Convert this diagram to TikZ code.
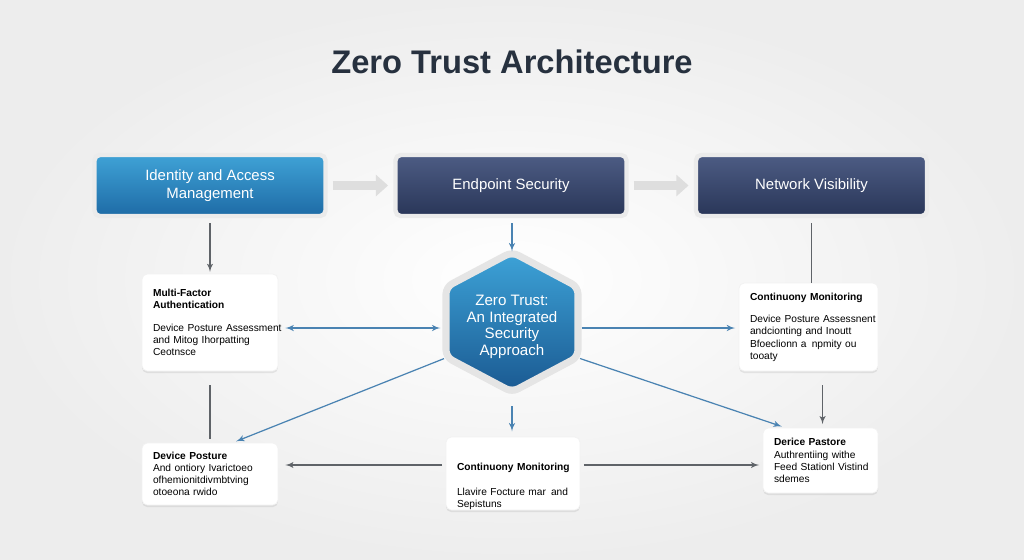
\documentclass[tikz,border=0pt]{standalone}
\usepackage{fontspec}
\setmainfont{Liberation Sans}
\usetikzlibrary{arrows,arrows.meta,shadows,positioning,calc}

\definecolor{titleink}{HTML}{27313F}
\definecolor{iamtop}{HTML}{3FA2D6}
\definecolor{iambot}{HTML}{1E6BA6}
\definecolor{navytop}{HTML}{4D5C84}
\definecolor{navybot}{HTML}{293658}
\definecolor{hextop}{HTML}{3DA3D8}
\definecolor{hexbot}{HTML}{1A5991}
\definecolor{linkblue}{HTML}{4A83B2}
\definecolor{linkgray}{HTML}{5F6368}

\begin{document}
\begin{tikzpicture}[x=0.02cm,y=-0.02cm,
  topbox/.style = {shape=rectangle, rounded corners=3pt,
    draw=black!8, line width=2.5pt, text=white, align=center,
    font=\fontsize{8.5}{10}\selectfont,
    minimum width=4.62cm, minimum height=1.22cm},
  card/.style = {shape=rectangle, rounded corners=3pt,
    fill=white, draw=black!5, align=left, inner xsep=0.22cm, inner ysep=0pt,
    font=\fontsize{5.8}{6.9}\selectfont,
    drop shadow={opacity=0.16, shadow xshift=0pt, shadow yshift=-1.2pt}},
  hubtext/.style = {align=center, text=white, inner sep=0pt,
    font=\fontsize{8.6}{9.4}\selectfont,
    minimum width=2.64cm, minimum height=2.8cm},
  flow/.style = {draw=black!13, line width=5pt,
    -{Triangle[width=12pt,length=7pt]}, shorten <=3pt, shorten >=3pt},
  line/.style = {draw=linkgray, line width=0.6pt, -latex'},
  plain/.style = {draw=linkgray, line width=0.6pt},
  bline/.style = {draw=linkblue, line width=0.7pt, -latex'}
  ]
  % backdrop
  \shade[inner color=white, outer color=black!7] (0,0) rectangle (1024,559);
  \useasboundingbox (0,0) rectangle (1024,559);

  \node[font=\fontsize{18.6}{22}\selectfont\bfseries, text=titleink] (title) at (512,62) {Zero Trust Architecture};

  % top row
  \node[topbox, top color=iamtop, bottom color=iambot] (iam) at (210,185.5) {Identity and Access\\Management};
  \node[topbox, top color=navytop, bottom color=navybot] (endp) at (511,185.5) {Endpoint Security};
  \node[topbox, top color=navytop, bottom color=navybot] (netv) at (811.5,185.5) {Network Visibility};

  \draw[flow] (iam.east) -- (endp.west);
  \draw[flow] (endp.east) -- (netv.west);

  % hub
  \path[draw=black!10, line width=4pt, rounded corners=4pt, top color=hextop, bottom color=hexbot,
    drop shadow={opacity=0.2, shadow xshift=0pt, shadow yshift=-2pt}]
    (512,252) -- (578,287) -- (578,357) -- (512,392) -- (446,357) -- (446,287) -- cycle;
  \node[hubtext] (hub) at (512,327) {Zero Trust:\\An Integrated\\Security\\Approach};

  % cards
  \node[card, text width=2.28cm, minimum height=1.94cm] (mfa) at (210,322.5)
    {\textbf{Multi-Factor}\\\textbf{Authentication}\\[6pt]\mbox{Device Posture Assessment}\\and Mitog Ihorpatting\\Ceotnsce};
  \node[card, text width=2.34cm, minimum height=1.76cm] (cmon) at (808.5,327)
    {\textbf{\mbox{Continuony Monitoring}}\\[6pt]\mbox{Device Posture Assessnent}\\andcionting and Inoutt\\Bfoeclionn a\, npmity ou\\tooaty};
  \node[card, text width=2.28cm, minimum height=1.24cm] (dpos) at (210,474)
    {\textbf{Device Posture}\\And ontiory Ivarictoeo\\ofhemionitdivmbtving\\otoeona rwido};
  \node[card, text width=2.24cm, minimum height=1.46cm] (cmon2) at (513,473.5)
    {\rule{0pt}{19pt}\textbf{\mbox{Continuony Monitoring}}\\[7pt]\mbox{Llavire Focture mar\, and}\\Sepistuns};
  \node[card, text width=1.86cm, minimum height=1.3cm] (dpos2) at (820.5,460.5)
    {\textbf{Derice Pastore}\\\mbox{Authrentiing withe}\\\mbox{Feed Stationl Vistind}\\sdemes};

  \coordinate (midrow) at (512,328);
  \coordinate (lowrow) at (512,465);

  % connectors
  \draw[line, shorten <=3pt, shorten >=1pt] (iam.south) -- (mfa.north);
  \draw[plain, shorten <=3pt] (netv.south) -- (netv.south |- cmon.north);
  \draw[plain, shorten <=8pt, shorten >=2pt] (mfa.south) -- (dpos.north);
  \draw[line, shorten <=8pt, shorten >=2pt] ([xshift=8]cmon.south) -- ([xshift=8]cmon.south |- dpos2.north);
  \draw[bline, shorten <=3pt, shorten >=3pt] (endp.south -| hub.north) -- (hub.north);
  \draw[bline, latex'-latex', shorten <=4pt, shorten >=3pt] (mfa.east |- midrow) -- (hub.west |- midrow);
  \draw[bline, shorten <=2pt, shorten >=2pt] (hub.east |- midrow) -- (cmon.west |- midrow);
  \draw[bline, shorten <=1pt, shorten >=2pt] (hub.205) -- (dpos.54);
  \draw[bline, shorten <=1pt, shorten >=2pt] (hub.-25) -- (dpos2.137);
  \draw[bline, shorten <=5pt, shorten >=3pt] (hub.south) -- (hub.south |- cmon2.north);
  \draw[line, shorten <=2pt, shorten >=4pt] (cmon2.west |- lowrow) -- (dpos.east |- lowrow);
  \draw[line, shorten <=2pt, shorten >=2pt] (cmon2.east |- lowrow) -- (dpos2.west |- lowrow);
\end{tikzpicture}
\end{document}
